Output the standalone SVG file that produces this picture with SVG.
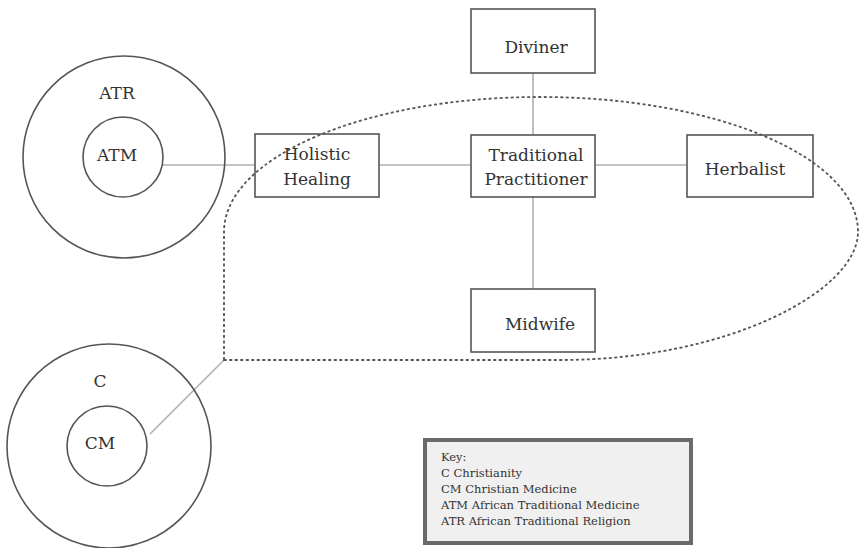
<svg xmlns="http://www.w3.org/2000/svg" width="860" height="548" viewBox="0 0 860 548">
<style>
.bg{fill:#ffffff}
.box{fill:#ffffff;stroke:#555555;stroke-width:1.6}
.circ{fill:none;stroke:#555555;stroke-width:1.6}
.conn{fill:none;stroke:#b0b0b0;stroke-width:1.6}
.dash{fill:none;stroke:#555555;stroke-width:1.8;stroke-dasharray:3 2.5}
.lbl{font-family:"DejaVu Serif","Liberation Serif",serif;font-size:17px;fill:#333333;text-anchor:middle}
.key{fill:#f0f0f0;stroke:#6a6a6a;stroke-width:4}
.keyt{font-family:"DejaVu Serif","Liberation Serif",serif;font-size:11.5px;fill:#333333}
</style>
<rect class="bg" x="0" y="0" width="860" height="548"/>
<g id="connectors">
<line class="conn" x1="163" y1="165" x2="255" y2="165"/>
<line class="conn" x1="379" y1="165" x2="471" y2="165"/>
<line class="conn" x1="595" y1="165" x2="687" y2="165"/>
<line class="conn" x1="533" y1="73" x2="533" y2="135"/>
<line class="conn" x1="533" y1="197" x2="533" y2="289"/>
<line class="conn" x1="150" y1="434" x2="224" y2="360"/>
</g>
<g id="atr">
<circle class="circ" cx="124" cy="157" r="101"/>
<text class="lbl" x="117" y="99">ATR</text>
</g>
<g id="atm">
<circle class="circ" cx="123" cy="157" r="40"/>
<text class="lbl" x="117" y="161">ATM</text>
</g>
<g id="c">
<circle class="circ" cx="109" cy="446" r="102"/>
<text class="lbl" x="100" y="387">C</text>
</g>
<g id="cm">
<circle class="circ" cx="107" cy="446" r="40"/>
<text class="lbl" x="100" y="449">CM</text>
</g>
<g id="holistic">
<rect class="box" x="255" y="134" width="124" height="63"/>
<text class="lbl" x="317" y="160">Holistic</text>
<text class="lbl" x="317" y="185">Healing</text>
</g>
<g id="traditional">
<rect class="box" x="471" y="135" width="124" height="62"/>
<text class="lbl" x="536" y="161">Traditional</text>
<text class="lbl" x="536" y="185">Practitioner</text>
</g>
<g id="diviner">
<rect class="box" x="471" y="9" width="124" height="64"/>
<text class="lbl" x="536" y="53">Diviner</text>
</g>
<g id="herbalist">
<rect class="box" x="687" y="135" width="126" height="62"/>
<text class="lbl" x="745" y="175">Herbalist</text>
</g>
<g id="midwife">
<rect class="box" x="471" y="289" width="124" height="63"/>
<text class="lbl" x="540" y="330">Midwife</text>
</g>
<g id="boundary">
<path class="dash" d="M224 360 L224 232 C224 157 365 97 540 97 C716 97 858 157 858 232 C858 290 730 360 560 360 Z"/>
</g>
<g id="keybox">
<rect class="key" x="425" y="440" width="266" height="103"/>
<text class="keyt" x="441" y="461">Key:</text>
<text class="keyt" x="441" y="477">C Christianity</text>
<text class="keyt" x="441" y="493">CM Christian Medicine</text>
<text class="keyt" x="441" y="509">ATM African Traditional Medicine</text>
<text class="keyt" x="441" y="525">ATR African Traditional Religion</text>
</g>
</svg>
